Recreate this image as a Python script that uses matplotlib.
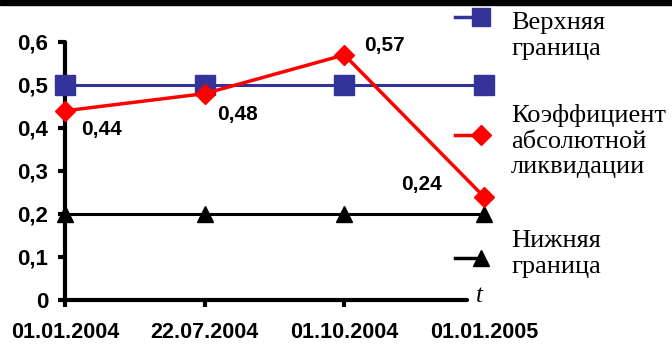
import matplotlib.pyplot as plt
from matplotlib.lines import Line2D
from matplotlib.patches import Rectangle

dates = ['01.01.2004', '22.07.2004', '01.10.2004', '01.01.2005']
upper = [0.5, 0.5, 0.5, 0.5]
coef = [0.44, 0.48, 0.57, 0.24]
lower = [0.2, 0.2, 0.2, 0.2]
yticks = [0, 0.1, 0.2, 0.3, 0.4, 0.5, 0.6]
ytick_labels = ['0', '0,1', '0,2', '0,3', '0,4', '0,5', '0,6']

W, H = 672, 347
fig = plt.figure(figsize=(W / 100, H / 100), dpi=100)
ax = fig.add_axes([65 / W, 1 - 300 / H, (484 - 65) / W, (300 - 42) / H])

x = range(len(dates))
blue, red, black = '#333399', '#ff0000', '#000000'
ax.plot(x, upper, color=blue, lw=2.2, marker='s', ms=14, clip_on=False, zorder=3)
ax.plot(x, coef, color=red, lw=2.5, marker='D', ms=10, clip_on=False, zorder=4)
ax.plot(x, lower, color=black, lw=2.2, marker='^', ms=12, clip_on=False, zorder=3)

# value labels next to the coefficient points
offsets = [(37, -19), (33, -21), (40, 9), (-63, 12)]
for xi, v, off in zip(x, coef, offsets):
    ax.annotate(('%.2f' % v).replace('.', ','), (xi, v), xytext=off,
                textcoords='offset pixels', ha='center', va='center',
                fontsize=15, fontweight='bold', family='Liberation Sans')

ax.set_xlim(0, 3)
ax.set_ylim(0, 0.6)
for s in ['top', 'right']:
    ax.spines[s].set_visible(False)
for s in ['left', 'bottom']:
    ax.spines[s].set_linewidth(3)
ax.spines['bottom'].set_bounds(0, 2.88)
ax.spines['bottom'].set_capstyle('round')
ax.spines['left'].set_capstyle('round')

ax.set_xticks(list(x))
ax.set_xticklabels(dates)
ax.set_yticks(yticks)
ax.set_yticklabels(ytick_labels)
ax.tick_params(axis='both', width=3, length=5)
ax.tick_params(axis='x', pad=11, labelsize=15.5)
ax.tick_params(axis='y', pad=7, labelsize=16)
for lab in ax.get_xticklabels() + ax.get_yticklabels():
    lab.set_fontweight('bold')
    lab.set_family('Liberation Sans')
ax.xaxis.get_major_ticks()[3].tick1line.set_visible(False)

ax.text(2.97, 0.01, 't', fontsize=18, style='italic', family='Liberation Serif',
        ha='center', va='center')


def px(xp, yp):
    return xp / W, 1 - yp / H


# legend drawn at the right
entries = [
    (blue, 's', 13, 17, 'Верхняя\nграница', 36),
    (red, 'D', 10, 135, 'Коэффициент\nабсолютной\nликвидации', 141),
    (black, '^', 12, 258, 'Нижняя\nграница', 254),
]
for col, mk, ms, ym, label, yt in entries:
    x0, y0 = px(455, ym)
    x1, _ = px(481, ym)
    fig.add_artist(Line2D([x0, x1], [y0, y0], color=col, lw=2.5,
                          transform=fig.transFigure))
    fig.add_artist(Line2D([x1], [y0], color=col, marker=mk, ms=ms,
                          transform=fig.transFigure))
    tx, ty = px(511, yt)
    fig.text(tx, ty, label, fontsize=19, family='Liberation Serif',
             va='center', ha='left', linespacing=1.2)

fig.add_artist(Rectangle((0, 1 - 5 / H), 1, 5 / H, color='black',
                         transform=fig.transFigure))

fig.savefig('out.png', dpi=100)
